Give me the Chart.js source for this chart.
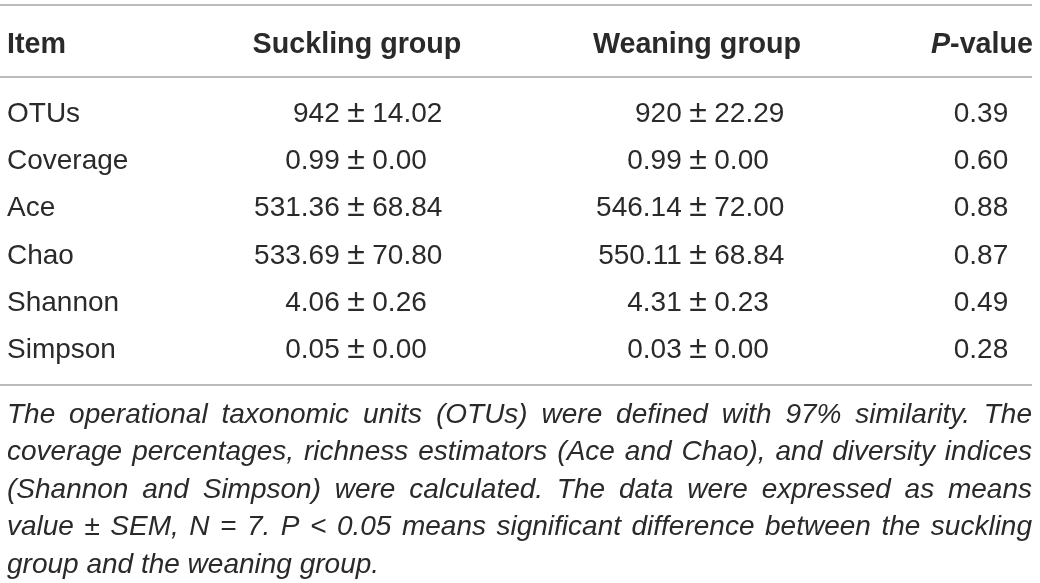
<!DOCTYPE html>
<html>
<head>
<meta charset="utf-8">
<script src="https://cdn.jsdelivr.net/npm/chart.js@4"></script>
<style>
  html, body { margin: 0; padding: 0; background: #fff; }
  #wrap { width: 1040px; height: 583px; }
</style>
</head>
<body>
<div id="wrap"><canvas id="myChart"></canvas></div>

<script type="text/javascript">
  // table content
  var items = ['OTUs', 'Coverage', 'Ace', 'Chao', 'Shannon', 'Simpson'];
  var sucklingMean = ['942', '0.99', '531.36', '533.69', '4.06', '0.05'];
  var sucklingSem = ['14.02', '0.00', '68.84', '70.80', '0.26', '0.00'];
  var weaningMean = ['920', '0.99', '546.14', '550.11', '4.31', '0.03'];
  var weaningSem = ['22.29', '0.00', '72.00', '68.84', '0.23', '0.00'];
  var pValues = ['0.39', '0.60', '0.88', '0.87', '0.49', '0.28'];
  var headers = ['Item', 'Suckling group', 'Weaning group', 'P-value'];
  var noteLines = [
    'The operational taxonomic units (OTUs) were defined with 97% similarity. The',
    'coverage percentages, richness estimators (Ace and Chao), and diversity indices',
    '(Shannon and Simpson) were calculated. The data were expressed as means',
    'value \u00b1 SEM, N = 7. P < 0.05 means significant difference between the suckling',
    'group and the weaning group.'
  ];

  // layout (pixels / row units)
  var colX = [7, 356, 698, 981];      // item left edge, ± centre, ± centre, p centre
  var headX = [7, 357, 697, 1033];    // left, centre, centre, right
  var pmGap = 7.5;
  var rowPx = 47.2, firstRowPx = 112;
  var headerRow = -1.462;
  var ruleRows = [-2.267, -0.742, 5.784];
  var noteRow = 6.377, noteStep = 0.7945;
  var textLeft = 7, textRight = 1032;
  var baseOff = 10;
  var ink = '#2a2a2a';
  var family = '"Liberation Sans", Arial, Helvetica, sans-serif';

  function pairs(mean, sem) {
    return mean.map(function(m, i) { return [m, sem[i]]; });
  }

  var columns = [
    items,
    pairs(sucklingMean, sucklingSem),
    pairs(weaningMean, weaningSem),
    pValues
  ];

  var tablePlugin = {
    id: 'tableText',
    afterDatasetsDraw: function(chart) {
      var ctx = chart.ctx;
      var ys = chart.scales.y;
      ctx.save();

      // horizontal rules
      ctx.strokeStyle = '#a3a3a3';
      ctx.lineWidth = 1.5;
      ruleRows.forEach(function(r) {
        var py = ys.getPixelForValue(r);
        ctx.beginPath();
        ctx.moveTo(0, py);
        ctx.lineTo(textRight, py);
        ctx.stroke();
      });

      ctx.fillStyle = ink;
      ctx.textBaseline = 'alphabetic';

      // header row
      var hy = ys.getPixelForValue(headerRow) + baseOff;
      var bold = 'bold 28.7px ' + family;
      ctx.font = bold;
      ctx.textAlign = 'left';
      ctx.fillText(headers[0], headX[0], hy);
      ctx.textAlign = 'center';
      ctx.fillText(headers[1], headX[1], hy);
      ctx.fillText(headers[2], headX[2], hy);
      // P-value with italic P
      var rest = headers[3].slice(1);
      var wRest = ctx.measureText(rest).width;
      ctx.font = 'italic ' + bold;
      var wP = ctx.measureText('P').width;
      ctx.textAlign = 'left';
      ctx.fillText('P', headX[3] - wRest - wP, hy);
      ctx.font = bold;
      ctx.fillText(rest, headX[3] - wRest, hy);

      // body cells, placed at each point of the datasets
      var body = '28px ' + family;
      var pmFont = '32px ' + family;
      ctx.font = pmFont;
      var pmHalf = ctx.measureText('\u00b1').width / 2;
      chart.data.datasets.forEach(function(ds, d) {
        var meta = chart.getDatasetMeta(d);
        meta.data.forEach(function(pt, i) {
          var cell = ds.cells[i];
          var by = pt.y + baseOff;
          ctx.font = body;
          if (d === 0) {
            ctx.textAlign = 'left';
            ctx.fillText(cell, pt.x, by);
          } else if (d === 3) {
            ctx.textAlign = 'center';
            ctx.fillText(cell, pt.x, by);
          } else {
            ctx.textAlign = 'right';
            ctx.fillText(cell[0], pt.x - pmHalf - pmGap, by);
            ctx.textAlign = 'left';
            ctx.fillText(cell[1], pt.x + pmHalf + pmGap, by);
            ctx.font = pmFont;
            ctx.textAlign = 'center';
            ctx.fillText('\u00b1', pt.x, by);
          }
        });
      });

      // justified footnote
      ctx.font = 'italic 28px ' + family;
      ctx.textAlign = 'left';
      noteLines.forEach(function(line, li) {
        var ly = ys.getPixelForValue(noteRow + li * noteStep) + baseOff;
        var words = line.split(' ');
        if (li === noteLines.length - 1) {
          ctx.fillText(line, textLeft, ly);
          return;
        }
        var total = 0;
        words.forEach(function(w) { total += ctx.measureText(w).width; });
        var gap = (textRight - textLeft - total) / (words.length - 1);
        var cx = textLeft;
        words.forEach(function(w) {
          ctx.fillText(w, cx, ly);
          cx += ctx.measureText(w).width + gap;
        });
      });

      ctx.restore();
    }
  };

  var yMin = -firstRowPx / rowPx;
  var yMax = yMin + 583 / rowPx;

  var ctx = document.getElementById('myChart').getContext('2d');
  var chart = new Chart(ctx, {
    type: 'scatter',
    data: {
      datasets: columns.map(function(col, c) {
        return {
          label: headers[c],
          cells: col,
          data: col.map(function(_, i) { return { x: colX[c], y: i }; }),
          pointRadius: 0,
          pointHoverRadius: 0
        };
      })
    },
    options: {
      responsive: true,
      maintainAspectRatio: false,
      animation: false,
      events: [],
      layout: { padding: 0 },
      plugins: { legend: { display: false }, tooltip: { enabled: false } },
      scales: {
        x: { type: 'linear', min: 0, max: 1040, display: false },
        y: { type: 'linear', min: yMin, max: yMax, reverse: true, display: false }
      }
    },
    plugins: [tablePlugin]
  });
</script>
</body>
</html>
